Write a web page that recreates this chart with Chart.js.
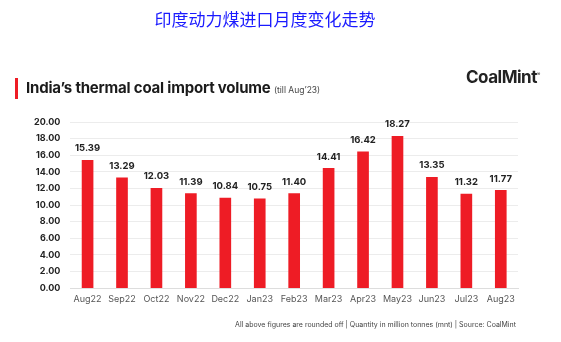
<!DOCTYPE html>
<html><head><meta charset="utf-8">
<script src="https://cdn.jsdelivr.net/npm/chart.js@4"></script>
<style>
html,body{margin:0;padding:0;background:#fff;}
#wrap{position:relative;width:561px;height:342px;overflow:hidden;}
#c{position:absolute;left:0;top:0;}
.t{position:absolute;white-space:nowrap;}
#cn{left:0;width:530px;top:6px;text-align:center;color:#1a1aff;font-family:"Noto Sans CJK SC";font-size:17px;}
#bar{left:15px;top:78px;width:3px;height:21px;background:#ee1c25;}
#sub{left:26px;top:78px;font-family:Inter,"Open Sans",sans-serif;font-weight:700;font-size:15px;color:#1b1b1b;letter-spacing:-0.2px;}
#sub small{font-weight:400;font-size:8.5px;color:#444;letter-spacing:0;}
#logo{left:466px;top:67px;font-family:Inter,sans-serif;font-weight:700;font-size:17px;color:#222;letter-spacing:-0.5px;}
#logo sup{font-size:5px;font-weight:400;}
#foot{right:45px;top:320px;font-family:Inter,"Open Sans",sans-serif;font-size:7px;color:#444;}
</style></head><body>
<div id="wrap">
<canvas id="c" width="561" height="342"></canvas>
<div class="t" id="cn">印度动力煤进口月度变化走势</div>
<div class="t" id="bar"></div>
<div class="t" id="sub">India’s thermal coal import volume <small>(till Aug’23)</small></div>
<div class="t" id="logo">CoalMint<sup>®</sup></div>
<div class="t" id="foot">All above figures are rounded off | Quantity in million tonnes (mnt) | Source: CoalMint</div>
</div>
<script>
const months = ["Aug22","Sep22","Oct22","Nov22","Dec22","Jan23","Feb23","Mar23","Apr23","May23","Jun23","Jul23","Aug23"];
const importVolume = [15.39,13.29,12.03,11.39,10.84,10.75,11.40,14.41,16.42,18.27,13.35,11.32,11.77];
const yTicks = [0,2,4,6,8,10,12,14,16,18,20];

const labelPlugin = {
  id:'vals',
  afterDatasetsDraw(chart){
    const ctx = chart.ctx;
    const meta = chart.getDatasetMeta(0);
    ctx.save();
    ctx.font = '700 9.5px Inter, "Open Sans", sans-serif';
    ctx.fillStyle = '#222';
    ctx.textAlign = 'center';
    ctx.textBaseline = 'bottom';
    meta.data.forEach((el,i)=>{
      ctx.fillText(importVolume[i].toFixed(2), el.x, el.y - 7);
    });
    ctx.restore();
  }
};

new Chart(document.getElementById('c'), {
  type:'bar',
  data:{labels:months,datasets:[{data:importVolume,backgroundColor:'#ee1c25',borderWidth:0,barThickness:11}]},
  options:{
    responsive:false,animation:false,
    layout:{padding:{top:122,left:24,right:43,bottom:31}},
    plugins:{legend:{display:false},tooltip:{enabled:false}},
    scales:{
      x:{grid:{display:false,drawTicks:false},border:{color:'#ddd'},
         ticks:{color:'#555',maxRotation:0,minRotation:0,autoSkip:false,font:{family:'Inter, "Open Sans", sans-serif',size:9},padding:6}},
      y:{min:0,max:20,afterBuildTicks(ax){ax.ticks=yTicks.map(v=>({value:v}));},
         grid:{color:'#ececec',drawTicks:false},border:{display:false},
         ticks:{color:'#222',padding:10,font:{family:'Inter, "Open Sans", sans-serif',size:9,weight:'700'},callback:v=>v.toFixed(2)}}
    }
  },
  plugins:[labelPlugin]
});
</script>
</body></html>
